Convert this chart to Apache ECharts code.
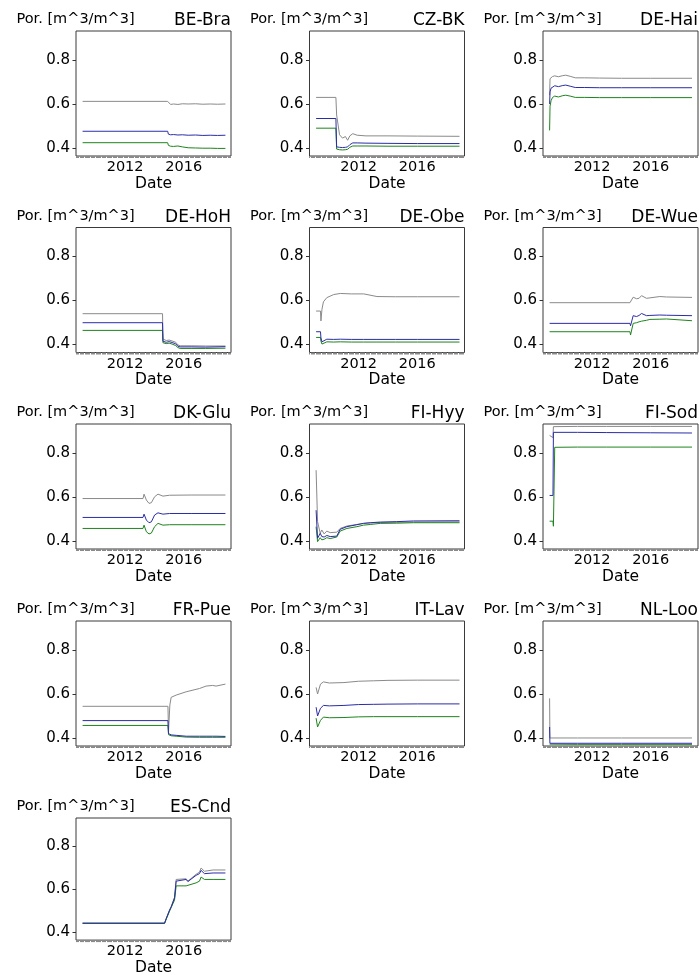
<!DOCTYPE html>
<html>
<head>
<meta charset="utf-8">
<script src="https://cdn.jsdelivr.net/npm/echarts@6/dist/echarts.min.js"></script>
<style>
  html, body { margin: 0; padding: 0; background: #fff; }
  #chart { width: 699px; height: 977px; }
</style>
</head>
<body>
<div id="chart"></div>
<script>
// Soil porosity per site: three estimates (gray, blue, green) over time (decimal years).
const sites = ['BE-Bra', 'CZ-BK', 'DE-Hai', 'DE-HoH', 'DE-Obe', 'DE-Wue', 'DK-Glu',
  'FI-Hyy', 'FI-Sod', 'FR-Pue', 'IT-Lav', 'NL-Loo', 'ES-Cnd'];

const yLabel = 'Por. [m^3/m^3]';
const xLabel = 'Date';
const yTicks = [0.4, 0.6, 0.8];
const xTicks = [2012, 2016];

const beBra_t = [2009.1, 2014.9, 2014.95, 2015.1, 2015.3, 2015.6, 2015.9, 2016.3, 2016.8, 2017.3, 2017.8, 2018.3, 2018.84];
const beBra_gray = [0.612, 0.612, 0.603, 0.598, 0.600, 0.598, 0.601, 0.600, 0.601, 0.599, 0.600, 0.599, 0.600];
const beBra_blue = [0.476, 0.476, 0.463, 0.460, 0.461, 0.459, 0.460, 0.458, 0.459, 0.457, 0.458, 0.457, 0.458];
const beBra_green = [0.424, 0.424, 0.412, 0.408, 0.407, 0.409, 0.405, 0.401, 0.400, 0.399, 0.399, 0.398, 0.398];

const czBk_t = [2009.1, 2010.45, 2010.5, 2010.7, 2010.9, 2011.1, 2011.25, 2011.4, 2011.6, 2011.9, 2012.5, 2014, 2016, 2018.88];
const czBk_gray = [0.630, 0.630, 0.55, 0.46, 0.445, 0.452, 0.435, 0.455, 0.465, 0.458, 0.455, 0.455, 0.454, 0.453];
const czBk_blue = [0.534, 0.534, 0.405, 0.403, 0.402, 0.403, 0.405, 0.415, 0.423, 0.423, 0.422, 0.421, 0.420, 0.420];
const czBk_green = [0.490, 0.490, 0.395, 0.392, 0.391, 0.392, 0.394, 0.403, 0.409, 0.409, 0.409, 0.408, 0.408, 0.408];

const deHai_t = [2009.1, 2009.13, 2009.2, 2009.3, 2009.45, 2009.7, 2010.0, 2010.2, 2010.5, 2010.85, 2011.5, 2012.5, 2014, 2016, 2018.81];
const deHai_gray = [0.64, 0.715, 0.72, 0.725, 0.728, 0.724, 0.729, 0.731, 0.726, 0.719, 0.719, 0.718, 0.717, 0.717, 0.717];
const deHai_blue = [0.60, 0.655, 0.672, 0.680, 0.683, 0.679, 0.684, 0.686, 0.681, 0.675, 0.675, 0.674, 0.674, 0.674, 0.674];
const deHai_green = [0.48, 0.59, 0.615, 0.630, 0.636, 0.632, 0.638, 0.640, 0.636, 0.630, 0.630, 0.629, 0.629, 0.629, 0.629];

const deHoh_t = [2009.1, 2014.55, 2014.58, 2014.8, 2015.0, 2015.2, 2015.45, 2015.6, 2015.75, 2016.5, 2017.5, 2018.84];
const deHoh_gray = [0.540, 0.540, 0.425, 0.418, 0.420, 0.416, 0.410, 0.398, 0.394, 0.394, 0.393, 0.393];
const deHoh_blue = [0.499, 0.499, 0.415, 0.410, 0.413, 0.409, 0.403, 0.392, 0.389, 0.389, 0.388, 0.390];
const deHoh_green = [0.464, 0.464, 0.408, 0.404, 0.406, 0.402, 0.395, 0.386, 0.382, 0.382, 0.382, 0.383];

const deObe_t = [2009.1, 2009.4, 2009.43, 2009.5, 2009.6, 2009.83, 2010.3, 2010.75, 2011.5, 2012.35, 2013.25, 2014.5, 2016, 2018.88];
const deObe_gray = [0.552, 0.552, 0.507, 0.56, 0.594, 0.613, 0.627, 0.632, 0.630, 0.630, 0.618, 0.617, 0.617, 0.617];
const deObe_blue = [0.458, 0.458, 0.430, 0.412, 0.418, 0.424, 0.423, 0.424, 0.423, 0.423, 0.423, 0.423, 0.423, 0.423];
const deObe_green = [0.432, 0.432, 0.415, 0.402, 0.408, 0.412, 0.411, 0.412, 0.411, 0.411, 0.411, 0.411, 0.411, 0.411];

const deWue_t = [2009.1, 2014.58, 2014.62, 2014.8, 2015.03, 2015.2, 2015.37, 2015.71, 2015.94, 2016.62, 2017.07, 2018.81];
const deWue_gray = [0.590, 0.590, 0.598, 0.615, 0.608, 0.610, 0.622, 0.610, 0.612, 0.618, 0.616, 0.614];
const deWue_blue = [0.496, 0.496, 0.485, 0.531, 0.527, 0.532, 0.541, 0.531, 0.532, 0.534, 0.533, 0.531];
const deWue_green = [0.458, 0.458, 0.443, 0.496, 0.499, 0.503, 0.506, 0.510, 0.514, 0.515, 0.516, 0.508];

const dkGlu_t = [2009.1, 2013.22, 2013.29, 2013.45, 2013.63, 2013.79, 2014.01, 2014.24, 2014.58, 2015.03, 2016.5, 2018.84];
const dkGlu_gray = [0.593, 0.593, 0.613, 0.586, 0.571, 0.574, 0.601, 0.613, 0.604, 0.608, 0.609, 0.609];
const dkGlu_blue = [0.507, 0.507, 0.522, 0.495, 0.483, 0.487, 0.518, 0.528, 0.522, 0.525, 0.525, 0.525];
const dkGlu_green = [0.457, 0.457, 0.472, 0.442, 0.432, 0.436, 0.465, 0.480, 0.472, 0.474, 0.474, 0.474];

const fiHyy_t = [2009.1, 2009.2, 2009.38, 2009.49, 2009.65, 2009.83, 2010.06, 2010.51, 2010.74, 2011.2, 2011.88, 2012.33, 2012.79, 2013.47, 2014.6, 2015.74, 2018.88];
const fiHyy_gray = [0.722, 0.488, 0.435, 0.450, 0.432, 0.445, 0.438, 0.440, 0.457, 0.468, 0.475, 0.480, 0.482, 0.484, 0.485, 0.486, 0.487];
const fiHyy_blue = [0.540, 0.412, 0.435, 0.420, 0.418, 0.425, 0.420, 0.422, 0.453, 0.465, 0.474, 0.480, 0.483, 0.486, 0.488, 0.491, 0.492];
const fiHyy_green = [0.465, 0.397, 0.415, 0.405, 0.408, 0.415, 0.411, 0.418, 0.445, 0.457, 0.465, 0.472, 0.475, 0.480, 0.481, 0.483, 0.483];

const fiSod_t = [2009.1, 2009.33, 2009.36, 2009.42, 2009.45, 2011, 2013, 2016, 2018.81];
const fiSod_gray = [0.88, 0.87, 0.92, 0.921, 0.921, 0.921, 0.921, 0.921, 0.921];
const fiSod_blue = [0.607, 0.607, 0.894, 0.895, 0.894, 0.894, 0.893, 0.892, 0.891];
const fiSod_green = [0.49, 0.49, 0.467, 0.46, 0.826, 0.827, 0.827, 0.827, 0.827];

const frPue_t = [2009.1, 2014.92, 2014.96, 2015.05, 2015.14, 2015.48, 2016.16, 2017.07, 2017.52, 2017.97, 2018.2, 2018.84];
const frPue_gray = [0.544, 0.544, 0.43, 0.55, 0.585, 0.595, 0.610, 0.625, 0.636, 0.639, 0.636, 0.645];
const frPue_blue = [0.479, 0.479, 0.420, 0.416, 0.414, 0.412, 0.408, 0.408, 0.408, 0.408, 0.408, 0.407];
const frPue_green = [0.457, 0.457, 0.415, 0.412, 0.410, 0.408, 0.404, 0.403, 0.403, 0.403, 0.403, 0.403];

const itLav_t = [2009.1, 2009.2, 2009.4, 2009.6, 2010, 2011, 2012, 2013, 2014, 2016, 2018.88];
const itLav_gray = [0.63, 0.60, 0.645, 0.655, 0.650, 0.652, 0.658, 0.660, 0.662, 0.663, 0.663];
const itLav_blue = [0.54, 0.50, 0.535, 0.548, 0.546, 0.548, 0.552, 0.553, 0.554, 0.555, 0.555];
const itLav_green = [0.49, 0.45, 0.480, 0.495, 0.492, 0.493, 0.496, 0.497, 0.497, 0.497, 0.497];

const nlLoo_t = [2009.1, 2009.12, 2009.2, 2011, 2014, 2018.81];
const nlLoo_gray = [0.58, 0.40, 0.40, 0.40, 0.40, 0.40];
const nlLoo_blue = [0.45, 0.376, 0.376, 0.376, 0.376, 0.376];
const nlLoo_green = [0.372, 0.371, 0.371, 0.371, 0.371, 0.371];

const esCnd_t = [2009.1, 2014.69, 2014.81, 2015.03, 2015.14, 2015.26, 2015.37, 2015.48, 2015.6, 2016.16, 2016.28, 2016.84, 2017.07, 2017.18, 2017.41, 2018, 2018.84];
const esCnd_gray = [0.442, 0.442, 0.465, 0.503, 0.518, 0.510, 0.563, 0.646, 0.649, 0.649, 0.638, 0.670, 0.680, 0.699, 0.684, 0.690, 0.690];
const esCnd_blue = [0.442, 0.442, 0.465, 0.503, 0.518, 0.510, 0.560, 0.638, 0.646, 0.646, 0.636, 0.665, 0.673, 0.688, 0.673, 0.676, 0.676];
const esCnd_green = [0.442, 0.442, 0.462, 0.498, 0.515, 0.508, 0.550, 0.616, 0.616, 0.616, 0.608, 0.630, 0.638, 0.657, 0.646, 0.646, 0.646];

const siteSeries = [
  [beBra_t, beBra_gray, beBra_blue, beBra_green],
  [czBk_t, czBk_gray, czBk_blue, czBk_green],
  [deHai_t, deHai_gray, deHai_blue, deHai_green],
  [deHoh_t, deHoh_gray, deHoh_blue, deHoh_green],
  [deObe_t, deObe_gray, deObe_blue, deObe_green],
  [deWue_t, deWue_gray, deWue_blue, deWue_green],
  [dkGlu_t, dkGlu_gray, dkGlu_blue, dkGlu_green],
  [fiHyy_t, fiHyy_gray, fiHyy_blue, fiHyy_green],
  [fiSod_t, fiSod_gray, fiSod_blue, fiSod_green],
  [frPue_t, frPue_gray, frPue_blue, frPue_green],
  [itLav_t, itLav_gray, itLav_blue, itLav_green],
  [nlLoo_t, nlLoo_gray, nlLoo_blue, nlLoo_green],
  [esCnd_t, esCnd_gray, esCnd_blue, esCnd_green]
];

// Panel geometry
const FONT = '"DejaVu Sans", sans-serif';
const colLeft = [76, 309.5, 543];
const rowTop = [31, 227.5, 424, 621, 818];
const boxW = 155, boxH = 125;
const xMin = 2008.65, xMax = 2019.22;
const yMin = 0.3635, yMax = 0.932;
const lineColors = { gray: '#8a8a8a', blue: '#2c2ca8', green: '#1f831f' };

// monthly minor ticks along the date axis
const monthTicks = [];
for (let m = Math.ceil(xMin * 12); m <= Math.floor(xMax * 12); m++) monthTicks.push(m / 12);

const grid = [], xAxis = [], yAxis = [], series = [], graphic = [];

sites.forEach((name, i) => {
  const c = i % 3, r = Math.floor(i / 3);
  const left = colLeft[c], top = rowTop[r];
  grid.push({
    left: left, top: top, width: boxW, height: boxH,
    show: true, borderColor: '#3a3a3a', borderWidth: 1, backgroundColor: 'transparent'
  });
  xAxis.push({
    type: 'value', gridIndex: i, min: xMin, max: xMax,
    name: xLabel, nameLocation: 'middle', nameGap: 19,
    nameTextStyle: { fontFamily: FONT, fontSize: 15.5, color: '#000', verticalAlign: 'top' },
    axisLine: { show: false },
    splitLine: { show: false },
    axisTick: { show: true, customValues: monthTicks, length: 2, lineStyle: { color: '#8a8a8a', width: 1 } },
    axisLabel: {
      show: true, customValues: xTicks, margin: 4,
      fontFamily: FONT, fontSize: 14.5, color: '#000',
      formatter: v => String(Math.round(v))
    }
  });
  yAxis.push({
    type: 'value', gridIndex: i, min: yMin, max: yMax,
    axisLine: { show: false },
    splitLine: { show: false },
    axisTick: { show: true, customValues: yTicks, length: 3.5, lineStyle: { color: '#333', width: 1 } },
    axisLabel: {
      show: true, customValues: yTicks, margin: 6,
      fontFamily: FONT, fontSize: 15, color: '#000',
      formatter: v => v.toFixed(1)
    }
  });
  const [t, g, b, gr] = siteSeries[i];
  const mk = (vals, color, key) => ({
    type: 'line', name: name + '-' + key, xAxisIndex: i, yAxisIndex: i,
    data: t.map((x, k) => [x, vals[k]]),
    showSymbol: false, symbol: 'none', animation: false, silent: true,
    lineStyle: { color: color, width: 1 }
  });
  series.push(mk(g, lineColors.gray, 'gray'));
  series.push(mk(gr, lineColors.green, 'green'));
  series.push(mk(b, lineColors.blue, 'blue'));

  graphic.push({
    type: 'text', x: left - 59.5, y: top - 11.7,
    style: { text: yLabel, font: '14.5px ' + FONT, fill: '#000', align: 'left', verticalAlign: 'middle' }
  });
  graphic.push({
    type: 'text', x: left + boxW, y: top - 10.1,
    style: { text: name, font: '17px ' + FONT, fill: '#000', align: 'right', verticalAlign: 'middle' }
  });
});

const chart = echarts.init(document.getElementById('chart'), null, { renderer: 'canvas' });
chart.setOption({
  backgroundColor: '#fff',
  animation: false,
  grid, xAxis, yAxis, series, graphic
});
</script>
</body>
</html>
